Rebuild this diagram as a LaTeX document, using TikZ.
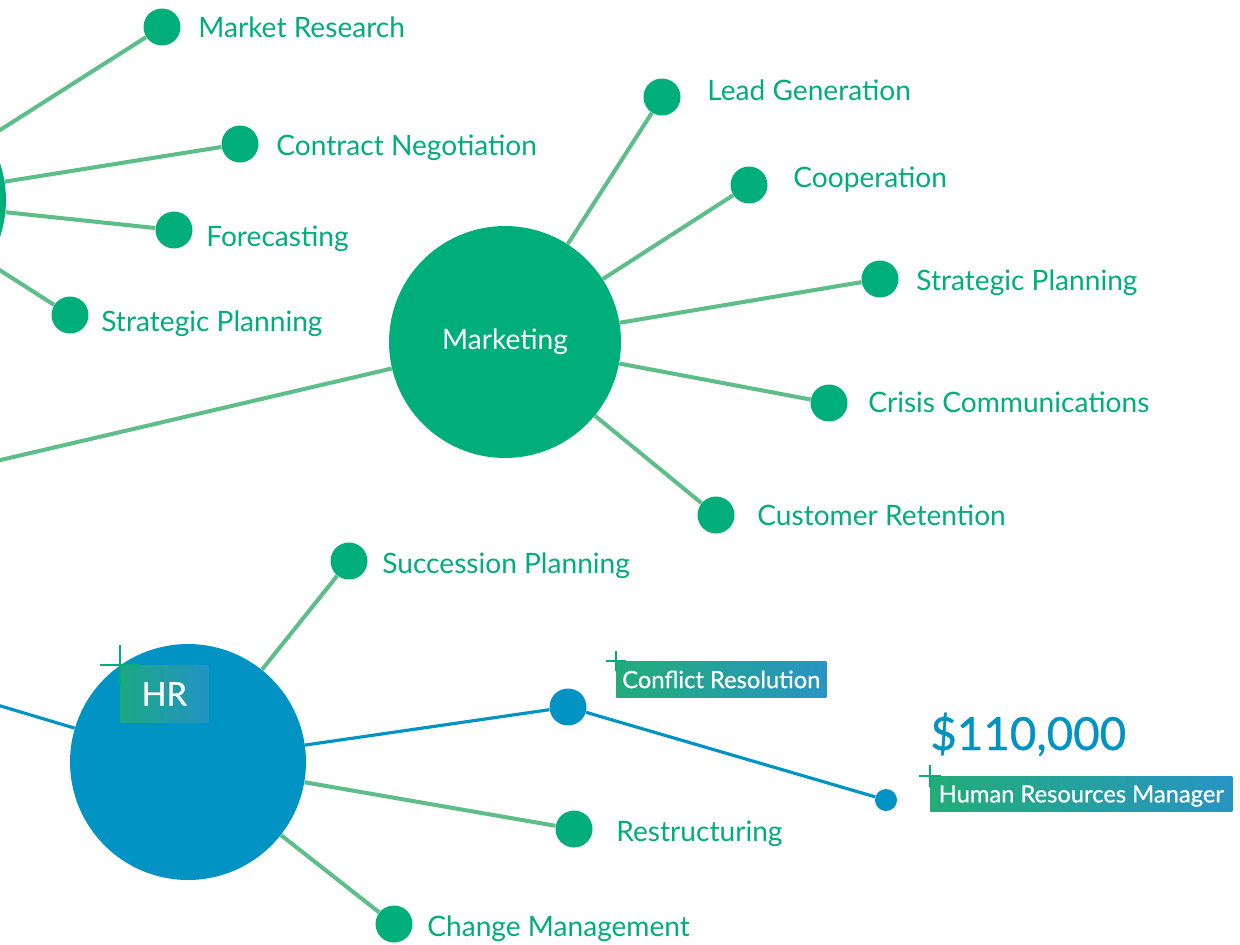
\documentclass[tikz,border=0pt]{standalone}
\usepackage{fontspec}
\setmainfont{Lato}
\newfontfamily\tagfont{Lato}[FakeBold=0.7]
\usetikzlibrary{positioning,shapes,fit,arrows}
\definecolor{mapgreen}{HTML}{00AE7A}
\definecolor{linkgreen}{HTML}{5EBE8A}
\definecolor{hrblue}{HTML}{0093C4}
\definecolor{taggreen}{HTML}{22AC78}
\definecolor{tagblue}{HTML}{2894C4}
\tikzset{
  hub/.style={circle,fill=mapgreen,inner sep=0pt,minimum size=4.64cm,text=white,font=\fontsize{16}{19}\selectfont},
  leaf/.style={circle,fill=mapgreen,inner sep=0pt,minimum size=0.74cm},
  lbl/.style={anchor=base west,inner sep=0pt,text=mapgreen,font=\fontsize{16}{19}\selectfont},
  link/.style={draw=linkgreen,line width=2.3pt},
  hrlink/.style={draw=hrblue,line width=1.8pt},
  tag/.style={anchor=north west,inner sep=0pt,text depth=0pt,left color=taggreen,right color=tagblue,text=white,font=\tagfont\fontsize{13.5}{16}\selectfont},
  plus/.style={draw=mapgreen,line width=1.6pt}
}
\begin{document}
\begin{tikzpicture}[x=0.02cm,y=-0.02cm]
\useasboundingbox (0,0) rectangle (1240,944);
\clip (0,0) rectangle (1240,944);
\fill[white] (0,0) rectangle (1240,944);
\coordinate (root) at (-461,568);
% left hub, only its edge is in view
\node[hub] (sales) at (-110,200) {};
\node[leaf] (mr) at (162,27) {};
\node[leaf] (cn) at (240,144) {};
\node[leaf] (fc) at (174,230) {};
\node[leaf] (sp1) at (70,315) {};
\node[lbl] (mr-t) at (198,37) {Market Research};
\node[lbl] (cn-t) at (276,155) {Contract Negotiation};
\node[lbl] (fc-t) at (206,246) {Forecasting};
\node[lbl] (sp1-t) at (101,331) {Strategic Planning};
% marketing
\node[hub] (mkt) at (505,342) {Marketing};
\node[leaf] (lg) at (662,97) {};
\node[leaf] (co) at (749,185) {};
\node[leaf] (sp2) at (880,279) {};
\node[leaf] (cc) at (829,403) {};
\node[leaf] (crt) at (716,515) {};
\node[lbl] (lg-t) at (707,100) {Lead Generation};
\node[lbl] (co-t) at (793,187) {Cooperation};
\node[lbl] (sp2-t) at (916,290) {Strategic Planning};
\node[lbl] (cc-t) at (868,412) {Crisis Communications};
\node[lbl] (crt-t) at (757,525) {Customer Retention};
% hr
\node[hub,fill=hrblue,minimum size=4.72cm] (hr) at (188,762) {};
\node[leaf] (sucp) at (349,561) {};
\node[leaf,fill=hrblue] (cr) at (568,707) {};
\node[leaf] (rs) at (574,829) {};
\node[leaf] (cm) at (394,924) {};
\node[leaf,fill=hrblue,minimum size=0.44cm] (hrm) at (886,800) {};
\node[lbl] (sucp-t) at (382,573) {Succession Planning};
\node[lbl] (rs-t) at (616,841) {Restructuring};
\node[lbl] (cm-t) at (427,936) {Change Management};

\draw[link] (sales) -- (mr);
\draw[link] (sales) -- (cn);
\draw[link] (sales) -- (fc);
\draw[link] (sales) -- (sp1);
\draw[link] (root) -- (mkt);
\draw[link] (mkt) -- (lg);
\draw[link] (mkt) -- (co);
\draw[link] (mkt) -- (sp2);
\draw[link] (mkt) -- (cc);
\draw[link] (mkt) -- (crt);
\draw[link] (hr) -- (sucp);
\draw[link] (hr) -- (rs);
\draw[link] (hr) -- (cm);
\draw[hrlink] (root) -- (hr);
\draw[hrlink] (hr) -- (cr) -- (hrm);

% highlighted tags
\node[tag,fill opacity=0.85,text opacity=1,minimum width=1.76cm,minimum height=1.14cm,font=\tagfont\fontsize{18.5}{22}\selectfont] (hrtag) at (120,665) {HR};
\node[tag,minimum width=4.2cm,minimum height=0.72cm] (crtag) at (616,661) {Conflict Resolution};
\node[tag,minimum width=6.04cm,minimum height=0.7cm] (hrmtag) at (930,776) {Human Resources Manager};
\node[anchor=base west,inner sep=0pt,text=hrblue,font=\tagfont\fontsize{26}{30}\selectfont] (salary) at (930,750) {\$110,000};
\draw[plus] (hrtag.north west) +(-20,0) -- +(20,0) +(0,-20) -- +(0,20);
\draw[plus] (crtag.north west) +(-10,0) -- +(10,0) +(0,-10) -- +(0,10);
\draw[plus] (hrmtag.north west) +(-11,0) -- +(11,0) +(0,-11) -- +(0,11);
\end{tikzpicture}
\end{document}
